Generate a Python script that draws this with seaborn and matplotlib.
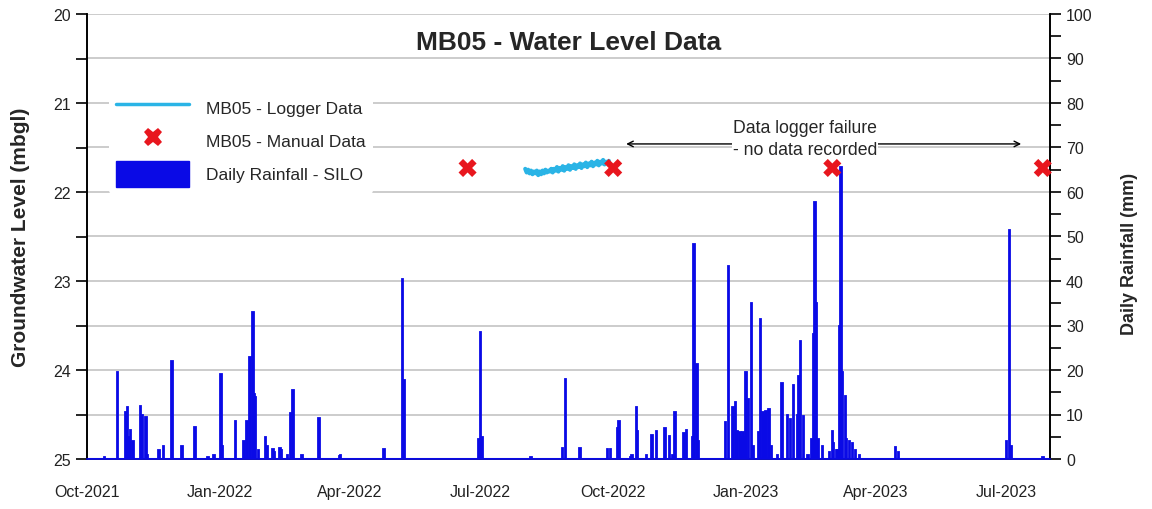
import matplotlib
matplotlib.use("Agg")
import matplotlib.pyplot as plt
import matplotlib.dates as mdates
from matplotlib.lines import Line2D
from matplotlib.patches import Patch
from matplotlib.ticker import MultipleLocator
import pandas as pd
import seaborn as sns
from datetime import datetime

# ---------------- data ----------------
rain_dates = [
    "2021-10-13", "2021-10-22", "2021-10-28", "2021-10-29", "2021-10-30", "2021-10-31", "2021-11-02",
    "2021-11-07", "2021-11-08", "2021-11-11", "2021-11-12", "2021-11-20", "2021-11-23", "2021-11-29",
    "2021-12-06", "2021-12-15", "2021-12-24", "2021-12-28",
    "2022-01-02", "2022-01-03", "2022-01-12", "2022-01-18", "2022-01-20", "2022-01-22", "2022-01-24",
    "2022-01-25", "2022-01-26", "2022-01-28", "2022-02-02", "2022-02-03", "2022-02-07", "2022-02-08",
    "2022-02-12", "2022-02-13", "2022-02-17", "2022-02-19", "2022-02-21", "2022-02-27", "2022-03-11",
    "2022-03-25", "2022-03-26", "2022-04-25", "2022-05-08", "2022-05-09", "2022-06-30", "2022-07-01",
    "2022-07-02", "2022-08-05", "2022-08-27", "2022-08-29", "2022-09-08", "2022-09-27", "2022-09-29",
    "2022-10-04", "2022-10-05", "2022-10-13", "2022-10-14", "2022-10-17", "2022-10-18", "2022-10-24",
    "2022-10-28", "2022-10-31", "2022-11-06", "2022-11-09", "2022-11-11", "2022-11-13", "2022-11-19",
    "2022-11-21", "2022-11-25", "2022-11-26", "2022-11-28", "2022-11-29", "2022-12-18", "2022-12-20",
    "2022-12-23", "2022-12-25", "2022-12-26", "2022-12-28", "2022-12-29", "2022-12-30", "2022-12-31",
    "2023-01-01", "2023-01-03", "2023-01-05", "2023-01-06", "2023-01-10", "2023-01-11", "2023-01-13",
    "2023-01-14", "2023-01-15", "2023-01-17", "2023-01-19", "2023-01-23", "2023-01-26", "2023-01-30",
    "2023-02-01", "2023-02-03", "2023-02-06", "2023-02-07", "2023-02-08", "2023-02-10", "2023-02-13",
    "2023-02-16", "2023-02-17", "2023-02-18", "2023-02-19", "2023-02-20", "2023-02-23", "2023-02-28",
    "2023-03-02", "2023-03-03", "2023-03-05", "2023-03-06", "2023-03-07", "2023-03-08", "2023-03-09",
    "2023-03-11", "2023-03-12", "2023-03-14", "2023-03-16", "2023-03-18", "2023-03-21", "2023-04-15",
    "2023-04-17", "2023-07-01", "2023-07-03", "2023-07-04", "2023-07-26",
]
rain_mm = [
    0.5, 19.5, 10.5, 11.7, 5.0, 6.5, 4.0,
    12.0, 10.0, 9.5, 1.0, 2.0, 3.0, 22.0,
    3.0, 7.2, 0.5, 1.0,
    19.0, 3.0, 8.5, 4.0, 8.5, 23.0, 33.0,
    14.5, 14.0, 2.0, 5.0, 3.0, 2.3, 1.5,
    2.5, 2.0, 1.0, 10.3, 15.5, 1.0, 9.2,
    0.7, 0.8, 2.2, 40.5, 17.8, 4.5, 28.5,
    5.0, 0.5, 2.5, 18.0, 2.5, 2.2, 2.2,
    7.0, 8.5, 0.5, 1.0, 11.7, 6.3, 1.0,
    5.4, 6.3, 7.0, 5.2, 1.0, 10.5, 5.8,
    6.5, 5.0, 48.3, 21.3, 4.0, 8.3, 43.3,
    11.7, 12.8, 6.3, 6.0, 5.0, 6.0, 5.0,
    19.5, 13.5, 35.0, 3.0, 6.0, 31.5, 10.5,
    10.0, 10.8, 11.2, 3.0, 1.0, 17.0, 9.9,
    9.0, 16.6, 10.0, 18.6, 26.5, 9.7, 1.0,
    4.5, 28.0, 57.7, 35.0, 4.5, 3.0, 1.5,
    6.3, 3.5, 2.0, 2.0, 30.0, 65.6, 19.5,
    14.2, 4.5, 4.0, 3.5, 2.0, 1.0, 2.6,
    1.5, 4.0, 51.5, 3.0, 0.5,
]

logger_start = "2022-08-01"
logger_level = [
    21.74, 21.78, 21.75, 21.79, 21.76, 21.80, 21.77, 21.79, 21.76, 21.81,
    21.77, 21.80, 21.76, 21.79, 21.75, 21.78, 21.76, 21.77, 21.74, 21.78,
    21.74, 21.76, 21.72, 21.77, 21.73, 21.75, 21.71, 21.76, 21.72, 21.74,
    21.70, 21.75, 21.71, 21.73, 21.69, 21.74, 21.70, 21.72, 21.68, 21.73,
    21.69, 21.71, 21.67, 21.72, 21.68, 21.70, 21.66, 21.71, 21.67, 21.69,
    21.65, 21.70, 21.66, 21.68, 21.64, 21.69, 21.66, 21.67, 21.65,
]

manual_dates = ["2022-06-22", "2022-10-01", "2023-03-02", "2023-07-26"]
manual_level = [21.73, 21.73, 21.73, 21.73]

title = "MB05 - Water Level Data"
legend_labels = ["MB05 - Logger Data", "MB05 - Manual Data", "Daily Rainfall - SILO"]
note = "Data logger failure\n- no data recorded"

# ---------------- style ----------------
BLUE = "#0a0ae6"
CYAN = "#2ab4e6"
RED = "#e8161e"
GRID = "#c8c8c8"

sns.set_style("white")
plt.rcParams["font.family"] = ["Liberation Sans", "DejaVu Sans"]

fig = plt.figure(figsize=(11.52, 5.10), dpi=100)
ax = fig.add_axes([87 / 1152, 50 / 510, (1050 - 87) / 1152, 445 / 510])
ax2 = ax.twinx()
ax.set_zorder(2)
ax2.set_zorder(1)
ax.patch.set_visible(False)

# rainfall on right axis
rd = pd.to_datetime(rain_dates)
ax2.bar(rd, rain_mm, width=1.0, color=BLUE, edgecolor=BLUE, linewidth=1.3, zorder=3)
ax2.axhline(0, color=BLUE, lw=2.2, zorder=3)
ax2.set_ylim(0, 100)
ax2.yaxis.set_major_locator(MultipleLocator(10))
ax2.yaxis.set_minor_locator(MultipleLocator(5))
ax2.grid(axis="y", which="major", color=GRID, lw=1.3, zorder=0)
ax2.set_axisbelow(True)
ax2.set_ylabel("Daily Rainfall (mm)", fontsize=13, fontweight="bold")
ax2.yaxis.set_label_coords(1.074, 0.463)

# groundwater on left axis
ldates = pd.date_range(logger_start, periods=len(logger_level), freq="D")
sns.lineplot(x=ldates, y=logger_level, ax=ax, color=CYAN, lw=3.0, legend=False, zorder=4)
sns.scatterplot(x=pd.to_datetime(manual_dates), y=manual_level, ax=ax, marker="X", s=170,
                color=RED, edgecolor="none", linewidth=0, zorder=6, clip_on=False, legend=False)
ax.set_ylim(25, 20)
ax.yaxis.set_major_locator(MultipleLocator(1))
ax.yaxis.set_minor_locator(MultipleLocator(0.5))
ax.set_ylabel("Groundwater Level (mbgl)", fontsize=15, fontweight="bold")
ax.yaxis.set_label_coords(-0.059, 0.5)
ax.set_xlabel("")

ax.set_xlim(datetime(2021, 10, 1), datetime(2023, 7, 31))
ax.xaxis.set_major_locator(mdates.MonthLocator(bymonth=[1, 4, 7, 10]))
ax.xaxis.set_minor_locator(mdates.MonthLocator())
ax.xaxis.set_major_formatter(mdates.DateFormatter("%b-%Y"))

for a in (ax, ax2):
    a.tick_params(which="both", direction="out", length=8, width=1.2, color="black",
                  labelsize=11.5, labelcolor="#222222")
    for s in a.spines.values():
        s.set_color("black")
        s.set_linewidth(1.2)
    a.spines["top"].set_visible(False)
ax.tick_params(axis="x", which="both", length=12, pad=6)
ax.spines["bottom"].set_color(BLUE)

# title
ax.text(0.5, 0.938, title, transform=ax.transAxes, ha="center", va="center",
        fontsize=19, fontweight="bold")

# annotation
ax.annotate("", xy=(datetime(2022, 10, 10), 21.46), xytext=(datetime(2023, 7, 11), 21.46),
            arrowprops=dict(arrowstyle="<->", color="black", lw=1.0, shrinkA=0, shrinkB=0))
ax.text(datetime(2023, 2, 11), 21.40, note, ha="center", va="center", fontsize=12.7,
        linespacing=1.4, bbox=dict(facecolor="white", edgecolor="none", pad=0.5), zorder=5)

# legend
handles = [
    Line2D([], [], color=CYAN, lw=2.5),
    Line2D([], [], color=RED, marker="X", markersize=13, lw=0, markeredgewidth=0),
    Patch(facecolor=BLUE, edgecolor=BLUE),
]
leg = ax.legend(handles, legend_labels, loc="upper left", bbox_to_anchor=(0.014, 0.853),
                frameon=True, fontsize=12.5, handlelength=4.2, handleheight=1.9,
                labelspacing=0.42, handletextpad=1.0, borderpad=0.4)
leg.get_frame().set_facecolor("white")
leg.get_frame().set_edgecolor("none")
leg.get_frame().set_alpha(1)

fig.savefig("out.png", dpi=100, facecolor="white")
